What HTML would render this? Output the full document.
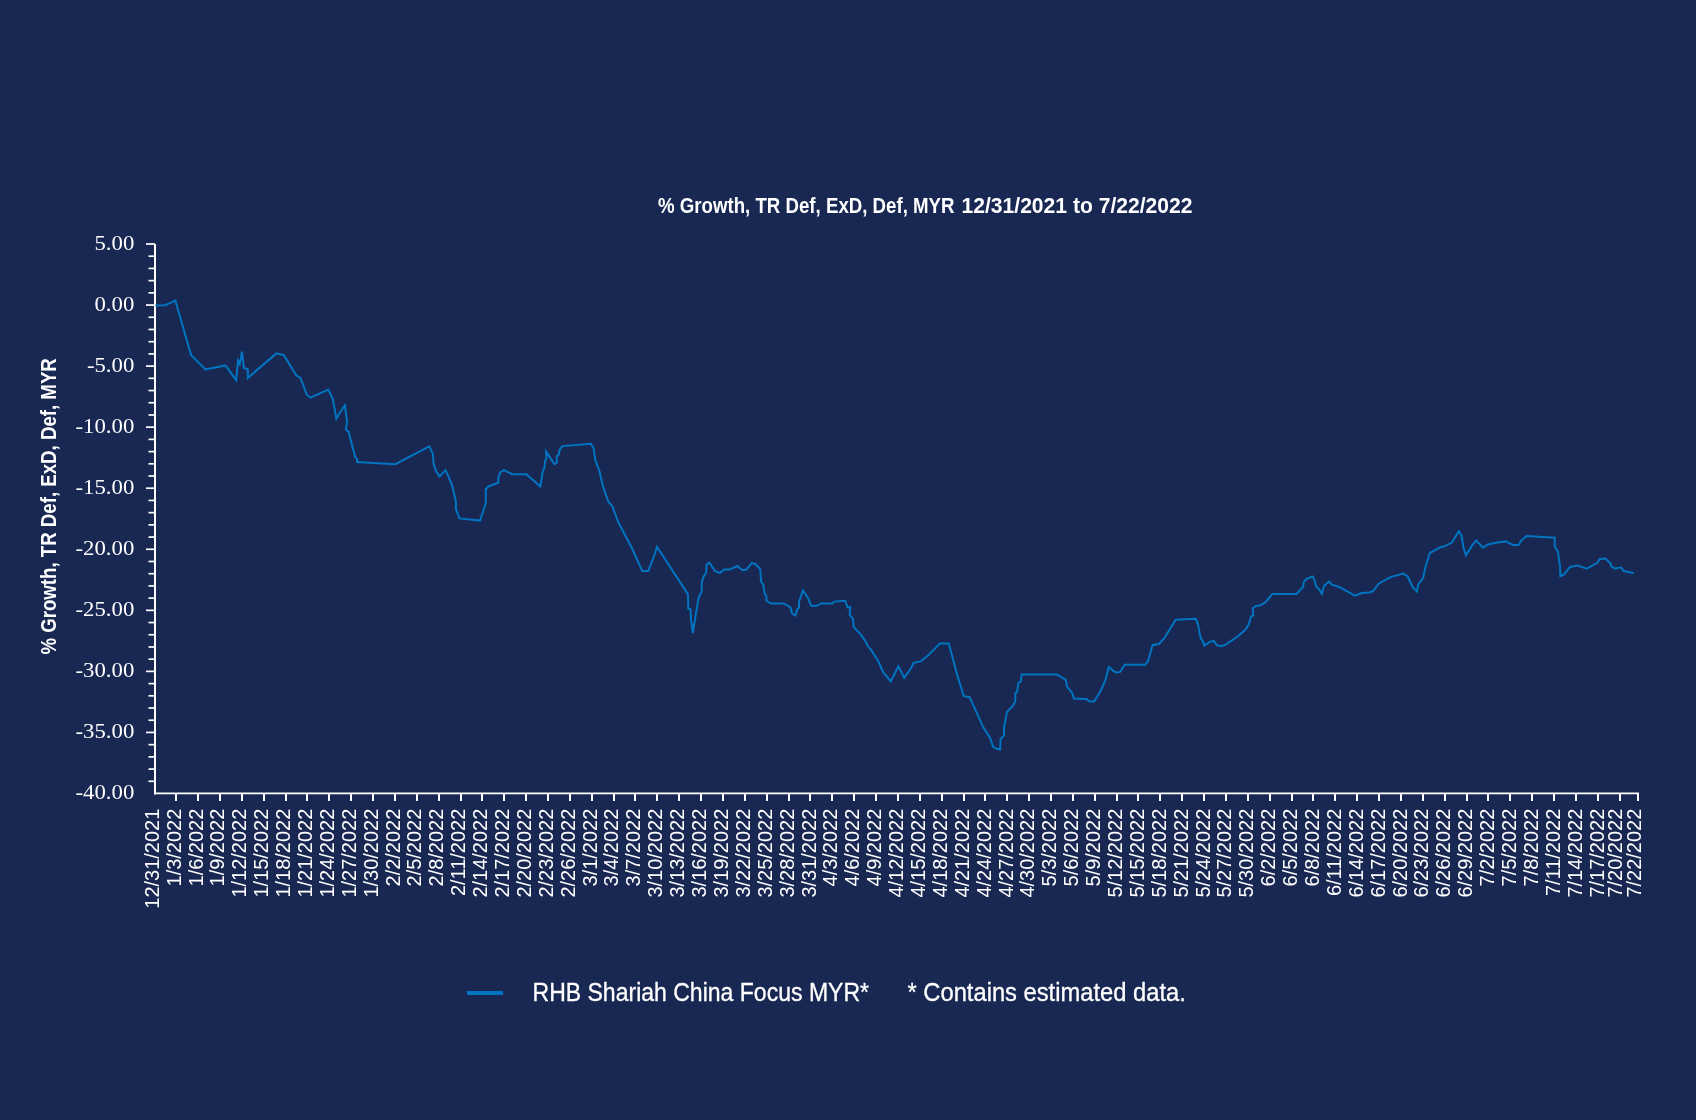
<!DOCTYPE html>
<html><head><meta charset="utf-8"><style>
html,body{margin:0;padding:0;background:#192853;}
body{width:1696px;height:1120px;overflow:hidden;position:relative;}
svg{position:absolute;left:0;top:0;display:block;}
text{font-family:"Liberation Sans",sans-serif;fill:#fff;}
.yl{font-family:"Liberation Serif",serif;font-size:22px;text-anchor:end;}
.xl{font-size:19.5px;text-anchor:end;}
.title{font-size:21.5px;font-weight:bold;}
.leg{font-size:25px;stroke:#fff;stroke-width:0.3px;}
svg{will-change:transform;}
</style></head><body>
<svg width="1696" height="1120" viewBox="0 0 1696 1120">
<line x1="155" y1="244.0" x2="155" y2="794.5" stroke="#fff" stroke-width="2"/>
<line x1="154" y1="793.35" x2="1639" y2="793.35" stroke="#fff" stroke-width="1.75"/>
<line x1="146" y1="244.00" x2="155" y2="244.00" stroke="#fff" stroke-width="1.7"/>
<text transform="translate(134.3,249.50) scale(1.035,1)" class="yl">5.00</text>
<line x1="148.5" y1="256.21" x2="155" y2="256.21" stroke="#fff" stroke-width="1.7"/>
<line x1="148.5" y1="268.42" x2="155" y2="268.42" stroke="#fff" stroke-width="1.7"/>
<line x1="148.5" y1="280.63" x2="155" y2="280.63" stroke="#fff" stroke-width="1.7"/>
<line x1="148.5" y1="292.84" x2="155" y2="292.84" stroke="#fff" stroke-width="1.7"/>
<line x1="146" y1="305.06" x2="155" y2="305.06" stroke="#fff" stroke-width="1.7"/>
<text transform="translate(134.3,310.56) scale(1.035,1)" class="yl">0.00</text>
<line x1="148.5" y1="317.27" x2="155" y2="317.27" stroke="#fff" stroke-width="1.7"/>
<line x1="148.5" y1="329.48" x2="155" y2="329.48" stroke="#fff" stroke-width="1.7"/>
<line x1="148.5" y1="341.69" x2="155" y2="341.69" stroke="#fff" stroke-width="1.7"/>
<line x1="148.5" y1="353.90" x2="155" y2="353.90" stroke="#fff" stroke-width="1.7"/>
<line x1="146" y1="366.11" x2="155" y2="366.11" stroke="#fff" stroke-width="1.7"/>
<text transform="translate(134.3,371.61) scale(1.035,1)" class="yl">-5.00</text>
<line x1="148.5" y1="378.32" x2="155" y2="378.32" stroke="#fff" stroke-width="1.7"/>
<line x1="148.5" y1="390.53" x2="155" y2="390.53" stroke="#fff" stroke-width="1.7"/>
<line x1="148.5" y1="402.74" x2="155" y2="402.74" stroke="#fff" stroke-width="1.7"/>
<line x1="148.5" y1="414.96" x2="155" y2="414.96" stroke="#fff" stroke-width="1.7"/>
<line x1="146" y1="427.17" x2="155" y2="427.17" stroke="#fff" stroke-width="1.7"/>
<text transform="translate(134.3,432.67) scale(1.035,1)" class="yl">-10.00</text>
<line x1="148.5" y1="439.38" x2="155" y2="439.38" stroke="#fff" stroke-width="1.7"/>
<line x1="148.5" y1="451.59" x2="155" y2="451.59" stroke="#fff" stroke-width="1.7"/>
<line x1="148.5" y1="463.80" x2="155" y2="463.80" stroke="#fff" stroke-width="1.7"/>
<line x1="148.5" y1="476.01" x2="155" y2="476.01" stroke="#fff" stroke-width="1.7"/>
<line x1="146" y1="488.22" x2="155" y2="488.22" stroke="#fff" stroke-width="1.7"/>
<text transform="translate(134.3,493.72) scale(1.035,1)" class="yl">-15.00</text>
<line x1="148.5" y1="500.43" x2="155" y2="500.43" stroke="#fff" stroke-width="1.7"/>
<line x1="148.5" y1="512.64" x2="155" y2="512.64" stroke="#fff" stroke-width="1.7"/>
<line x1="148.5" y1="524.86" x2="155" y2="524.86" stroke="#fff" stroke-width="1.7"/>
<line x1="148.5" y1="537.07" x2="155" y2="537.07" stroke="#fff" stroke-width="1.7"/>
<line x1="146" y1="549.28" x2="155" y2="549.28" stroke="#fff" stroke-width="1.7"/>
<text transform="translate(134.3,554.78) scale(1.035,1)" class="yl">-20.00</text>
<line x1="148.5" y1="561.49" x2="155" y2="561.49" stroke="#fff" stroke-width="1.7"/>
<line x1="148.5" y1="573.70" x2="155" y2="573.70" stroke="#fff" stroke-width="1.7"/>
<line x1="148.5" y1="585.91" x2="155" y2="585.91" stroke="#fff" stroke-width="1.7"/>
<line x1="148.5" y1="598.12" x2="155" y2="598.12" stroke="#fff" stroke-width="1.7"/>
<line x1="146" y1="610.33" x2="155" y2="610.33" stroke="#fff" stroke-width="1.7"/>
<text transform="translate(134.3,615.83) scale(1.035,1)" class="yl">-25.00</text>
<line x1="148.5" y1="622.54" x2="155" y2="622.54" stroke="#fff" stroke-width="1.7"/>
<line x1="148.5" y1="634.76" x2="155" y2="634.76" stroke="#fff" stroke-width="1.7"/>
<line x1="148.5" y1="646.97" x2="155" y2="646.97" stroke="#fff" stroke-width="1.7"/>
<line x1="148.5" y1="659.18" x2="155" y2="659.18" stroke="#fff" stroke-width="1.7"/>
<line x1="146" y1="671.39" x2="155" y2="671.39" stroke="#fff" stroke-width="1.7"/>
<text transform="translate(134.3,676.89) scale(1.035,1)" class="yl">-30.00</text>
<line x1="148.5" y1="683.60" x2="155" y2="683.60" stroke="#fff" stroke-width="1.7"/>
<line x1="148.5" y1="695.81" x2="155" y2="695.81" stroke="#fff" stroke-width="1.7"/>
<line x1="148.5" y1="708.02" x2="155" y2="708.02" stroke="#fff" stroke-width="1.7"/>
<line x1="148.5" y1="720.23" x2="155" y2="720.23" stroke="#fff" stroke-width="1.7"/>
<line x1="146" y1="732.44" x2="155" y2="732.44" stroke="#fff" stroke-width="1.7"/>
<text transform="translate(134.3,737.94) scale(1.035,1)" class="yl">-35.00</text>
<line x1="148.5" y1="744.66" x2="155" y2="744.66" stroke="#fff" stroke-width="1.7"/>
<line x1="148.5" y1="756.87" x2="155" y2="756.87" stroke="#fff" stroke-width="1.7"/>
<line x1="148.5" y1="769.08" x2="155" y2="769.08" stroke="#fff" stroke-width="1.7"/>
<line x1="148.5" y1="781.29" x2="155" y2="781.29" stroke="#fff" stroke-width="1.7"/>
<text transform="translate(134.3,799.00) scale(1.035,1)" class="yl">-40.00</text>
<text transform="translate(158.80,808.7) rotate(-90) scale(1.025,1)" class="xl">12/31/2021</text>
<line x1="176.00" y1="793.5" x2="176.00" y2="801" stroke="#fff" stroke-width="2"/>
<text transform="translate(180.69,808.7) rotate(-90) scale(1.025,1)" class="xl">1/3/2022</text>
<line x1="198.00" y1="793.5" x2="198.00" y2="801" stroke="#fff" stroke-width="2"/>
<text transform="translate(202.58,808.7) rotate(-90) scale(1.025,1)" class="xl">1/6/2022</text>
<line x1="220.00" y1="793.5" x2="220.00" y2="801" stroke="#fff" stroke-width="2"/>
<text transform="translate(224.47,808.7) rotate(-90) scale(1.025,1)" class="xl">1/9/2022</text>
<line x1="242.00" y1="793.5" x2="242.00" y2="801" stroke="#fff" stroke-width="2"/>
<text transform="translate(246.36,808.7) rotate(-90) scale(1.025,1)" class="xl">1/12/2022</text>
<line x1="264.00" y1="793.5" x2="264.00" y2="801" stroke="#fff" stroke-width="2"/>
<text transform="translate(268.25,808.7) rotate(-90) scale(1.025,1)" class="xl">1/15/2022</text>
<line x1="286.00" y1="793.5" x2="286.00" y2="801" stroke="#fff" stroke-width="2"/>
<text transform="translate(290.14,808.7) rotate(-90) scale(1.025,1)" class="xl">1/18/2022</text>
<line x1="307.00" y1="793.5" x2="307.00" y2="801" stroke="#fff" stroke-width="2"/>
<text transform="translate(312.03,808.7) rotate(-90) scale(1.025,1)" class="xl">1/21/2022</text>
<line x1="329.00" y1="793.5" x2="329.00" y2="801" stroke="#fff" stroke-width="2"/>
<text transform="translate(333.92,808.7) rotate(-90) scale(1.025,1)" class="xl">1/24/2022</text>
<line x1="351.00" y1="793.5" x2="351.00" y2="801" stroke="#fff" stroke-width="2"/>
<text transform="translate(355.81,808.7) rotate(-90) scale(1.025,1)" class="xl">1/27/2022</text>
<line x1="373.00" y1="793.5" x2="373.00" y2="801" stroke="#fff" stroke-width="2"/>
<text transform="translate(377.70,808.7) rotate(-90) scale(1.025,1)" class="xl">1/30/2022</text>
<line x1="395.00" y1="793.5" x2="395.00" y2="801" stroke="#fff" stroke-width="2"/>
<text transform="translate(399.59,808.7) rotate(-90) scale(1.025,1)" class="xl">2/2/2022</text>
<line x1="417.00" y1="793.5" x2="417.00" y2="801" stroke="#fff" stroke-width="2"/>
<text transform="translate(421.48,808.7) rotate(-90) scale(1.025,1)" class="xl">2/5/2022</text>
<line x1="439.00" y1="793.5" x2="439.00" y2="801" stroke="#fff" stroke-width="2"/>
<text transform="translate(443.37,808.7) rotate(-90) scale(1.025,1)" class="xl">2/8/2022</text>
<line x1="461.00" y1="793.5" x2="461.00" y2="801" stroke="#fff" stroke-width="2"/>
<text transform="translate(465.26,808.7) rotate(-90) scale(1.025,1)" class="xl">2/11/2022</text>
<line x1="482.00" y1="793.5" x2="482.00" y2="801" stroke="#fff" stroke-width="2"/>
<text transform="translate(487.15,808.7) rotate(-90) scale(1.025,1)" class="xl">2/14/2022</text>
<line x1="504.00" y1="793.5" x2="504.00" y2="801" stroke="#fff" stroke-width="2"/>
<text transform="translate(509.04,808.7) rotate(-90) scale(1.025,1)" class="xl">2/17/2022</text>
<line x1="526.00" y1="793.5" x2="526.00" y2="801" stroke="#fff" stroke-width="2"/>
<text transform="translate(530.93,808.7) rotate(-90) scale(1.025,1)" class="xl">2/20/2022</text>
<line x1="548.00" y1="793.5" x2="548.00" y2="801" stroke="#fff" stroke-width="2"/>
<text transform="translate(552.82,808.7) rotate(-90) scale(1.025,1)" class="xl">2/23/2022</text>
<line x1="570.00" y1="793.5" x2="570.00" y2="801" stroke="#fff" stroke-width="2"/>
<text transform="translate(574.71,808.7) rotate(-90) scale(1.025,1)" class="xl">2/26/2022</text>
<line x1="592.00" y1="793.5" x2="592.00" y2="801" stroke="#fff" stroke-width="2"/>
<text transform="translate(596.60,808.7) rotate(-90) scale(1.025,1)" class="xl">3/1/2022</text>
<line x1="614.00" y1="793.5" x2="614.00" y2="801" stroke="#fff" stroke-width="2"/>
<text transform="translate(618.49,808.7) rotate(-90) scale(1.025,1)" class="xl">3/4/2022</text>
<line x1="635.00" y1="793.5" x2="635.00" y2="801" stroke="#fff" stroke-width="2"/>
<text transform="translate(640.38,808.7) rotate(-90) scale(1.025,1)" class="xl">3/7/2022</text>
<line x1="657.00" y1="793.5" x2="657.00" y2="801" stroke="#fff" stroke-width="2"/>
<text transform="translate(662.27,808.7) rotate(-90) scale(1.025,1)" class="xl">3/10/2022</text>
<line x1="679.00" y1="793.5" x2="679.00" y2="801" stroke="#fff" stroke-width="2"/>
<text transform="translate(684.16,808.7) rotate(-90) scale(1.025,1)" class="xl">3/13/2022</text>
<line x1="701.00" y1="793.5" x2="701.00" y2="801" stroke="#fff" stroke-width="2"/>
<text transform="translate(706.05,808.7) rotate(-90) scale(1.025,1)" class="xl">3/16/2022</text>
<line x1="723.00" y1="793.5" x2="723.00" y2="801" stroke="#fff" stroke-width="2"/>
<text transform="translate(727.94,808.7) rotate(-90) scale(1.025,1)" class="xl">3/19/2022</text>
<line x1="745.00" y1="793.5" x2="745.00" y2="801" stroke="#fff" stroke-width="2"/>
<text transform="translate(749.83,808.7) rotate(-90) scale(1.025,1)" class="xl">3/22/2022</text>
<line x1="767.00" y1="793.5" x2="767.00" y2="801" stroke="#fff" stroke-width="2"/>
<text transform="translate(771.72,808.7) rotate(-90) scale(1.025,1)" class="xl">3/25/2022</text>
<line x1="789.00" y1="793.5" x2="789.00" y2="801" stroke="#fff" stroke-width="2"/>
<text transform="translate(793.61,808.7) rotate(-90) scale(1.025,1)" class="xl">3/28/2022</text>
<line x1="810.00" y1="793.5" x2="810.00" y2="801" stroke="#fff" stroke-width="2"/>
<text transform="translate(815.50,808.7) rotate(-90) scale(1.025,1)" class="xl">3/31/2022</text>
<line x1="832.00" y1="793.5" x2="832.00" y2="801" stroke="#fff" stroke-width="2"/>
<text transform="translate(837.39,808.7) rotate(-90) scale(1.025,1)" class="xl">4/3/2022</text>
<line x1="854.00" y1="793.5" x2="854.00" y2="801" stroke="#fff" stroke-width="2"/>
<text transform="translate(859.28,808.7) rotate(-90) scale(1.025,1)" class="xl">4/6/2022</text>
<line x1="876.00" y1="793.5" x2="876.00" y2="801" stroke="#fff" stroke-width="2"/>
<text transform="translate(881.17,808.7) rotate(-90) scale(1.025,1)" class="xl">4/9/2022</text>
<line x1="898.00" y1="793.5" x2="898.00" y2="801" stroke="#fff" stroke-width="2"/>
<text transform="translate(903.06,808.7) rotate(-90) scale(1.025,1)" class="xl">4/12/2022</text>
<line x1="920.00" y1="793.5" x2="920.00" y2="801" stroke="#fff" stroke-width="2"/>
<text transform="translate(924.95,808.7) rotate(-90) scale(1.025,1)" class="xl">4/15/2022</text>
<line x1="942.00" y1="793.5" x2="942.00" y2="801" stroke="#fff" stroke-width="2"/>
<text transform="translate(946.84,808.7) rotate(-90) scale(1.025,1)" class="xl">4/18/2022</text>
<line x1="964.00" y1="793.5" x2="964.00" y2="801" stroke="#fff" stroke-width="2"/>
<text transform="translate(968.73,808.7) rotate(-90) scale(1.025,1)" class="xl">4/21/2022</text>
<line x1="985.00" y1="793.5" x2="985.00" y2="801" stroke="#fff" stroke-width="2"/>
<text transform="translate(990.62,808.7) rotate(-90) scale(1.025,1)" class="xl">4/24/2022</text>
<line x1="1007.00" y1="793.5" x2="1007.00" y2="801" stroke="#fff" stroke-width="2"/>
<text transform="translate(1012.51,808.7) rotate(-90) scale(1.025,1)" class="xl">4/27/2022</text>
<line x1="1029.00" y1="793.5" x2="1029.00" y2="801" stroke="#fff" stroke-width="2"/>
<text transform="translate(1034.40,808.7) rotate(-90) scale(1.025,1)" class="xl">4/30/2022</text>
<line x1="1051.00" y1="793.5" x2="1051.00" y2="801" stroke="#fff" stroke-width="2"/>
<text transform="translate(1056.29,808.7) rotate(-90) scale(1.025,1)" class="xl">5/3/2022</text>
<line x1="1073.00" y1="793.5" x2="1073.00" y2="801" stroke="#fff" stroke-width="2"/>
<text transform="translate(1078.18,808.7) rotate(-90) scale(1.025,1)" class="xl">5/6/2022</text>
<line x1="1095.00" y1="793.5" x2="1095.00" y2="801" stroke="#fff" stroke-width="2"/>
<text transform="translate(1100.07,808.7) rotate(-90) scale(1.025,1)" class="xl">5/9/2022</text>
<line x1="1117.00" y1="793.5" x2="1117.00" y2="801" stroke="#fff" stroke-width="2"/>
<text transform="translate(1121.96,808.7) rotate(-90) scale(1.025,1)" class="xl">5/12/2022</text>
<line x1="1138.00" y1="793.5" x2="1138.00" y2="801" stroke="#fff" stroke-width="2"/>
<text transform="translate(1143.85,808.7) rotate(-90) scale(1.025,1)" class="xl">5/15/2022</text>
<line x1="1160.00" y1="793.5" x2="1160.00" y2="801" stroke="#fff" stroke-width="2"/>
<text transform="translate(1165.74,808.7) rotate(-90) scale(1.025,1)" class="xl">5/18/2022</text>
<line x1="1182.00" y1="793.5" x2="1182.00" y2="801" stroke="#fff" stroke-width="2"/>
<text transform="translate(1187.63,808.7) rotate(-90) scale(1.025,1)" class="xl">5/21/2022</text>
<line x1="1204.00" y1="793.5" x2="1204.00" y2="801" stroke="#fff" stroke-width="2"/>
<text transform="translate(1209.52,808.7) rotate(-90) scale(1.025,1)" class="xl">5/24/2022</text>
<line x1="1226.00" y1="793.5" x2="1226.00" y2="801" stroke="#fff" stroke-width="2"/>
<text transform="translate(1231.41,808.7) rotate(-90) scale(1.025,1)" class="xl">5/27/2022</text>
<line x1="1248.00" y1="793.5" x2="1248.00" y2="801" stroke="#fff" stroke-width="2"/>
<text transform="translate(1253.30,808.7) rotate(-90) scale(1.025,1)" class="xl">5/30/2022</text>
<line x1="1270.00" y1="793.5" x2="1270.00" y2="801" stroke="#fff" stroke-width="2"/>
<text transform="translate(1275.19,808.7) rotate(-90) scale(1.025,1)" class="xl">6/2/2022</text>
<line x1="1292.00" y1="793.5" x2="1292.00" y2="801" stroke="#fff" stroke-width="2"/>
<text transform="translate(1297.08,808.7) rotate(-90) scale(1.025,1)" class="xl">6/5/2022</text>
<line x1="1313.00" y1="793.5" x2="1313.00" y2="801" stroke="#fff" stroke-width="2"/>
<text transform="translate(1318.97,808.7) rotate(-90) scale(1.025,1)" class="xl">6/8/2022</text>
<line x1="1335.00" y1="793.5" x2="1335.00" y2="801" stroke="#fff" stroke-width="2"/>
<text transform="translate(1340.86,808.7) rotate(-90) scale(1.025,1)" class="xl">6/11/2022</text>
<line x1="1357.00" y1="793.5" x2="1357.00" y2="801" stroke="#fff" stroke-width="2"/>
<text transform="translate(1362.75,808.7) rotate(-90) scale(1.025,1)" class="xl">6/14/2022</text>
<line x1="1379.00" y1="793.5" x2="1379.00" y2="801" stroke="#fff" stroke-width="2"/>
<text transform="translate(1384.64,808.7) rotate(-90) scale(1.025,1)" class="xl">6/17/2022</text>
<line x1="1401.00" y1="793.5" x2="1401.00" y2="801" stroke="#fff" stroke-width="2"/>
<text transform="translate(1406.53,808.7) rotate(-90) scale(1.025,1)" class="xl">6/20/2022</text>
<line x1="1423.00" y1="793.5" x2="1423.00" y2="801" stroke="#fff" stroke-width="2"/>
<text transform="translate(1428.42,808.7) rotate(-90) scale(1.025,1)" class="xl">6/23/2022</text>
<line x1="1445.00" y1="793.5" x2="1445.00" y2="801" stroke="#fff" stroke-width="2"/>
<text transform="translate(1450.31,808.7) rotate(-90) scale(1.025,1)" class="xl">6/26/2022</text>
<line x1="1467.00" y1="793.5" x2="1467.00" y2="801" stroke="#fff" stroke-width="2"/>
<text transform="translate(1472.20,808.7) rotate(-90) scale(1.025,1)" class="xl">6/29/2022</text>
<line x1="1488.00" y1="793.5" x2="1488.00" y2="801" stroke="#fff" stroke-width="2"/>
<text transform="translate(1494.09,808.7) rotate(-90) scale(1.025,1)" class="xl">7/2/2022</text>
<line x1="1510.00" y1="793.5" x2="1510.00" y2="801" stroke="#fff" stroke-width="2"/>
<text transform="translate(1515.98,808.7) rotate(-90) scale(1.025,1)" class="xl">7/5/2022</text>
<line x1="1532.00" y1="793.5" x2="1532.00" y2="801" stroke="#fff" stroke-width="2"/>
<text transform="translate(1537.87,808.7) rotate(-90) scale(1.025,1)" class="xl">7/8/2022</text>
<line x1="1554.00" y1="793.5" x2="1554.00" y2="801" stroke="#fff" stroke-width="2"/>
<text transform="translate(1559.76,808.7) rotate(-90) scale(1.025,1)" class="xl">7/11/2022</text>
<line x1="1576.00" y1="793.5" x2="1576.00" y2="801" stroke="#fff" stroke-width="2"/>
<text transform="translate(1581.65,808.7) rotate(-90) scale(1.025,1)" class="xl">7/14/2022</text>
<line x1="1598.00" y1="793.5" x2="1598.00" y2="801" stroke="#fff" stroke-width="2"/>
<text transform="translate(1603.54,808.7) rotate(-90) scale(1.025,1)" class="xl">7/17/2022</text>
<line x1="1620.00" y1="793.5" x2="1620.00" y2="801" stroke="#fff" stroke-width="2"/>
<text transform="translate(1621.70,808.7) rotate(-90) scale(1.025,1)" class="xl">7/20/2022</text>
<line x1="1638.00" y1="793.5" x2="1638.00" y2="801" stroke="#fff" stroke-width="2"/>
<text transform="translate(1641.10,808.7) rotate(-90) scale(1.025,1)" class="xl">7/22/2022</text>
<path d="M155.4,305.6 L165.2,305.2 L175.4,300.7 L191.1,355.2 L205.4,369.5 L225.4,365.4 L236.2,380.2 L238.0,360.5 L239.7,364.1 L242.0,351.6 L243.8,367.7 L247.8,369.5 L247.8,378.0 L276.3,353.4 L283.9,355.2 L296.3,375.4 L300.3,377.6 L307.0,395.0 L310.5,397.7 L328.4,389.6 L332.9,399.5 L336.4,418.7 L340.4,412.0 L344.9,405.3 L347.1,421.8 L345.8,429.4 L348.5,431.6 L355.2,457.1 L357.0,458.8 L357.0,462.0 L395.4,464.2 L429.3,446.3 L432.9,453.9 L433.6,463.9 L435.8,470.6 L439.4,476.4 L445.6,470.2 L451.9,484.5 L455.9,501.4 L455.9,509.0 L459.5,518.4 L480.0,520.6 L485.8,503.2 L485.8,488.9 L488.9,486.2 L498.3,482.7 L498.3,478.2 L500.1,472.4 L504.1,470.2 L512.1,474.2 L526.4,474.2 L540.3,486.5 L542.9,470.6 L544.3,468.4 L545.2,460.4 L546.5,459.0 L546.1,451.6 L554.6,464.4 L556.8,462.6 L556.8,456.3 L558.6,455.0 L559.9,449.2 L562.6,446.1 L590.8,443.7 L593.4,447.7 L595.4,460.4 L599.5,471.2 L602.8,485.9 L608.2,501.3 L612.2,506.0 L618.2,522.0 L631.6,547.5 L642.3,570.9 L648.3,570.9 L655.0,553.5 L657.0,546.8 L687.9,594.1 L688.3,608.8 L690.5,609.3 L691.0,619.6 L692.8,633.0 L696.8,608.4 L698.6,597.7 L701.7,591.4 L701.7,582.5 L703.5,576.7 L706.2,572.7 L706.6,564.6 L709.3,562.4 L715.1,571.3 L720.0,573.1 L724.0,569.6 L729.8,569.6 L737.0,566.0 L742.3,570.0 L745.9,570.0 L752.1,562.9 L755.7,564.2 L760.2,569.1 L761.1,581.6 L763.3,584.7 L764.6,593.7 L766.4,595.9 L766.4,600.8 L770.9,603.5 L783.8,603.5 L790.5,607.5 L791.9,613.3 L795.4,615.5 L797.2,609.3 L799.0,607.5 L799.0,601.7 L803.0,590.5 L808.4,598.6 L810.9,605.6 L816.2,606.1 L821.2,603.4 L832.3,603.4 L834.1,601.6 L845.3,600.7 L847.5,607.4 L850.2,607.0 L849.7,615.0 L852.9,618.6 L853.8,627.1 L860.9,634.6 L865.4,641.3 L867.6,645.8 L870.7,649.4 L877.9,660.5 L883.2,672.1 L890.8,681.5 L898.4,666.3 L904.2,677.9 L911.3,667.7 L913.6,662.8 L920.7,661.4 L927.9,655.6 L939.9,643.6 L948.8,643.6 L956.4,672.1 L959.8,683.4 L963.8,696.2 L969.6,697.2 L983.4,727.6 L989.8,737.4 L993.2,746.8 L995.2,748.2 L1000.1,749.7 L1000.6,738.9 L1004.0,735.5 L1004.0,727.6 L1007.0,711.9 L1012.9,706.0 L1015.3,701.1 L1015.3,693.7 L1017.3,691.3 L1018.3,682.9 L1020.7,681.9 L1021.7,674.6 L1057.1,674.6 L1065.9,680.0 L1066.9,686.3 L1072.3,693.2 L1073.8,698.6 L1086.5,699.1 L1089.5,701.6 L1094.2,701.5 L1100.7,690.7 L1105.6,679.6 L1108.8,667.1 L1115.4,672.4 L1119.9,672.0 L1124.8,664.8 L1144.9,664.8 L1148.0,661.2 L1152.5,645.2 L1159.2,643.8 L1164.1,638.5 L1175.7,619.7 L1195.8,618.8 L1198.0,624.6 L1200.7,638.5 L1202.9,641.2 L1204.3,645.6 L1209.2,642.1 L1213.7,640.7 L1216.8,645.2 L1221.2,646.1 L1225.7,644.7 L1238.0,636.3 L1245.6,629.6 L1248.8,624.3 L1251.0,616.7 L1253.2,615.4 L1252.8,608.2 L1255.9,606.0 L1259.9,605.5 L1265.3,602.4 L1272.4,593.9 L1296.5,593.9 L1303.2,586.8 L1303.7,581.9 L1306.3,579.2 L1312.6,576.5 L1314.4,579.6 L1316.2,586.8 L1319.3,589.5 L1322.0,593.9 L1323.8,586.3 L1329.1,581.4 L1331.8,584.6 L1339.8,587.2 L1354.6,595.7 L1362.1,593.0 L1369.3,592.6 L1372.8,591.3 L1379.0,583.5 L1390.5,577.1 L1403.0,573.6 L1407.5,576.2 L1412.9,587.4 L1416.9,591.4 L1418.2,584.3 L1423.1,578.0 L1425.4,567.3 L1429.8,553.0 L1440.5,547.2 L1444.5,546.3 L1452.1,542.3 L1458.8,531.2 L1461.5,535.6 L1463.3,546.8 L1466.0,555.3 L1471.8,545.9 L1476.2,540.5 L1483.0,547.7 L1487.9,544.5 L1498.6,542.3 L1505.7,541.4 L1512.9,545.0 L1518.5,544.9 L1521.5,540.3 L1526.4,535.9 L1554.7,537.7 L1554.7,546.5 L1557.8,551.4 L1560.0,566.0 L1560.4,576.2 L1564.0,574.4 L1570.1,566.9 L1577.7,565.5 L1586.9,568.6 L1597.6,562.5 L1599.8,558.9 L1605.5,558.5 L1610.8,563.8 L1611.3,566.4 L1615.2,568.6 L1621.0,567.3 L1623.2,570.4 L1626.7,571.7 L1633.8,573.1" fill="none" stroke="#0074c0" stroke-width="2" stroke-linejoin="miter" stroke-miterlimit="4"/>
<text x="658" y="213" class="title" textLength="296.5" lengthAdjust="spacingAndGlyphs">% Growth, TR Def, ExD, Def, MYR</text>
<text x="961.5" y="213" class="title" textLength="231" lengthAdjust="spacingAndGlyphs">12/31/2021 to 7/22/2022</text>
<text transform="translate(55.6,654.6) rotate(-90)" class="title" textLength="296.4" lengthAdjust="spacingAndGlyphs">% Growth, TR Def, ExD, Def, MYR</text>
<line x1="467" y1="993" x2="503" y2="993" stroke="#0074c0" stroke-width="4"/>
<text x="532.5" y="1001" class="leg" textLength="336.5" lengthAdjust="spacingAndGlyphs">RHB Shariah China Focus MYR*</text>
<text x="907.5" y="1001" class="leg" textLength="278.3" lengthAdjust="spacingAndGlyphs">* Contains estimated data.</text>
</svg>
</body></html>
